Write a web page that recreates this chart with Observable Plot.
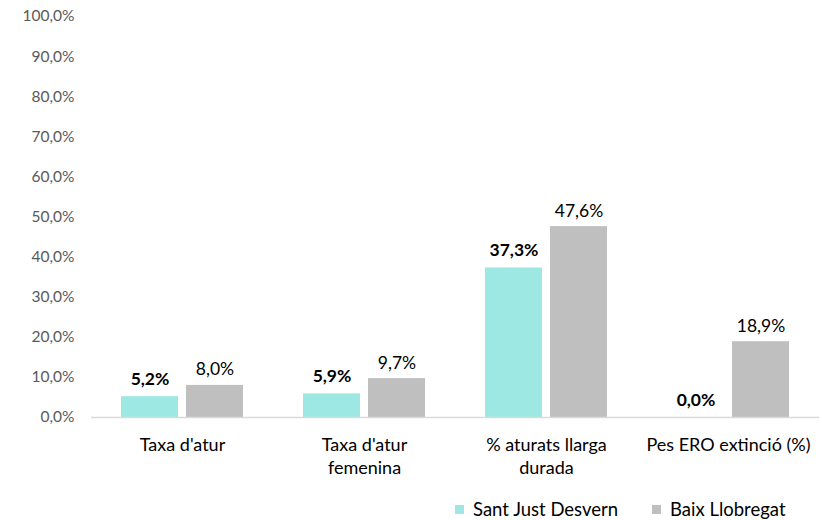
<!DOCTYPE html>
<html>
<head>
<meta charset="utf-8">
<script src="https://cdn.jsdelivr.net/npm/d3@7"></script>
<script src="https://cdn.jsdelivr.net/npm/@observablehq/plot@0.6"></script>
<style>
  html, body { margin: 0; padding: 0; background: #fff; }
  body { width: 822px; height: 520px; overflow: hidden; font-family: Lato, "Open Sans", sans-serif; }
  #legend { position: relative; height: 22px; font-size: 18.5px; color: #000; }
  .item { position: absolute; top: 0px; display: flex; align-items: center; }
  .sw { width: 9px; height: 9px; margin-right: 9px; }
</style>
</head>
<body>
<div id="chart"></div>
<div id="legend"></div>
<script>
const categories = ["Taxa d'atur", "Taxa d'atur femenina", "% aturats llarga durada", "Pes ERO extinció (%)"];
const categoryLabels = ["Taxa d'atur", "Taxa d'atur\nfemenina", "% aturats llarga\ndurada", "Pes ERO extinció (%)"];
const seriesNames = ["Sant Just Desvern", "Baix Llobregat"];
const santJust = [5.2, 5.9, 37.3, 0.0];
const baixLlobregat = [8.0, 9.7, 47.6, 18.9];
const yTicks = [0, 10, 20, 30, 40, 50, 60, 70, 80, 90, 100];
const colors = ["#9ee8e3", "#bfbfbf"];

const data = [];
categories.forEach((c, i) => {
  data.push({cat: c, series: seriesNames[0], value: santJust[i]});
  data.push({cat: c, series: seriesNames[1], value: baixLlobregat[i]});
});
const fmt = d => d.toFixed(1).replace(".", ",") + "%";
const labelOf = Object.fromEntries(categories.map((c, i) => [c, categoryLabels[i]]));

const chart = Plot.plot({
  width: 822,
  height: 498,
  marginLeft: 91,
  marginRight: 3,
  marginTop: 16,
  marginBottom: 81,
  style: {fontFamily: "Lato, 'Open Sans', sans-serif", background: "#fff"},
  fx: {domain: categories, padding: 0, label: null, axis: null},
  x: {domain: seriesNames, paddingInner: 0.121, paddingOuter: 0.44, axis: null},
  y: {domain: [0, 100], label: null, axis: null},
  color: {domain: seriesNames, range: colors},
  marks: [
    Plot.axisY({ticks: yTicks, tickFormat: fmt, tickSize: 0, tickPadding: 17, fontSize: 15.5, color: "#595959", label: null}),
    Plot.axisFx({anchor: "bottom", tickSize: 0, tickPadding: 18, fontSize: 18, tickFormat: d => labelOf[d], lineHeight: 1.25, label: null, color: "#000"}),
    Plot.barY(data, {fx: "cat", x: "series", y: "value", fill: "series"}),
    Plot.ruleY([0], {stroke: "#d9d9d9", strokeWidth: 1.5}),
    Plot.text(data.filter(d => d.series === seriesNames[0]), {fx: "cat", x: "series", y: "value", text: d => fmt(d.value), lineAnchor: "bottom", dy: -12, fontSize: 17.5, fontWeight: "bold", fill: "#000"}),
    Plot.text(data.filter(d => d.series === seriesNames[1]), {fx: "cat", x: "series", y: "value", text: d => fmt(d.value), lineAnchor: "bottom", dy: -10, fontSize: 17.5, fill: "#000"})
  ]
});
document.getElementById("chart").appendChild(chart);

const legend = document.getElementById("legend");
const lx = [455, 652];
seriesNames.forEach((s, i) => {
  const it = document.createElement("div");
  it.className = "item";
  it.style.left = lx[i] + "px";
  const sw = document.createElement("span");
  sw.className = "sw";
  sw.style.background = colors[i];
  const t = document.createElement("span");
  t.textContent = s;
  it.appendChild(sw);
  it.appendChild(t);
  legend.appendChild(it);
});
</script>
</body>
</html>
